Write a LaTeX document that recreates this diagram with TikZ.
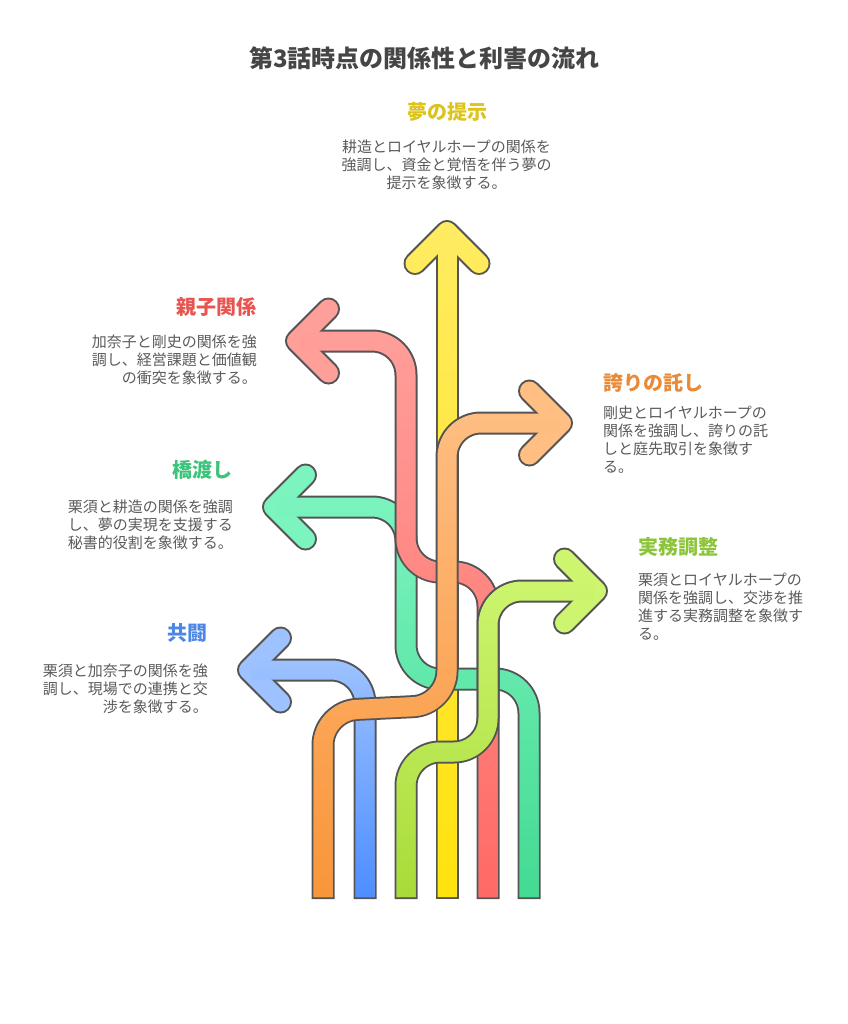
\documentclass[tikz,border=0pt]{standalone}
\usepackage{fontspec}
\setmainfont{Noto Sans CJK JP}
\usetikzlibrary{fadings}

\definecolor{rimgray}{HTML}{545454}
\definecolor{titlegray}{HTML}{454545}
\definecolor{txtgray}{HTML}{5A5A5A}
\definecolor{dreamtop}{HTML}{FFEC62}
\definecolor{dreambot}{HTML}{FFE30E}
\definecolor{bridgetop}{HTML}{7CF4BF}
\definecolor{bridgebot}{HTML}{44DB93}
\definecolor{parenttop}{HTML}{FF9F9A}
\definecolor{parentbot}{HTML}{FF6A66}
\definecolor{alliancetop}{HTML}{9DC2FF}
\definecolor{alliancebot}{HTML}{4E8EFF}
\definecolor{pridetop}{HTML}{FFBE82}
\definecolor{pridebot}{HTML}{F9963A}
\definecolor{affairstop}{HTML}{CDF56F}
\definecolor{affairsbot}{HTML}{A9DC3A}
\definecolor{dreamcol}{HTML}{DCC41C}
\definecolor{parentcol}{HTML}{E85450}
\definecolor{bridgecol}{HTML}{3CC47A}
\definecolor{alliancecol}{HTML}{4C87E6}
\definecolor{pridecol}{HTML}{E88A38}
\definecolor{affairscol}{HTML}{8CC43C}

\begin{document}
\begin{tikzpicture}[x=1pt, y=-1pt,
  rim/.style={draw=rimgray, line width=23pt, line join=round},
  band/.style={draw=#1, line width=19pt, line join=round},
  shaft/.style={rounded corners=34pt, line cap=rect},
  chev/.style={sharp corners, line cap=round},
  heading/.style={font=\bfseries\fontsize{20}{24}\selectfont, inner sep=0pt},
  blurb/.style={font=\fontsize{15}{18}\selectfont, text=txtgray, inner sep=0pt}]

\useasboundingbox (0,0) rectangle (847,1024);

\node [font=\bfseries\fontsize{24}{29}\selectfont, text=titlegray, inner sep=0pt] (title) at (424.5,58) {第3話時点の関係性と利害の流れ};

% 1
\draw[rim, shaft] (447,887.5) -- (447,243.5);
\draw[rim, chev] (415,263.5) -- (447,231.5) -- (479,263.5);
\draw[band=dreamtop, shaft] (447,887.5) -- (447,243.5);
\draw[band=dreamtop, chev] (415,263.5) -- (447,231.5) -- (479,263.5);
\draw[band=dreambot, shaft, path fading=north] (447,887.5) -- (447,243.5) (415,263.5) -- (447,231.5) -- (479,263.5);

% 2
\draw[rim, shaft] (529,887.5) -- (529,679) -- (406,679) -- (406,507) -- (285.5,507);
\draw[rim, chev] (305.5,475) -- (273.5,507) -- (305.5,539);
\draw[band=bridgetop, shaft] (529,887.5) -- (529,679) -- (406,679) -- (406,507) -- (285.5,507);
\draw[band=bridgetop, chev] (305.5,475) -- (273.5,507) -- (305.5,539);
\draw[band=bridgebot, shaft, path fading=north] (529,887.5) -- (529,679) -- (406,679) -- (406,507) -- (285.5,507);

% 3
\draw[rim, shaft] (488,887.5) -- (488,572) -- (406,572) -- (406,341) -- (308.5,341);
\draw[rim, chev] (328.5,309) -- (296.5,341) -- (328.5,373);
\draw[band=parenttop, shaft] (488,887.5) -- (488,572) -- (406,572) -- (406,341) -- (308.5,341);
\draw[band=parenttop, chev] (328.5,309) -- (296.5,341) -- (328.5,373);
\draw[band=parentbot, shaft, path fading=north] (488,887.5) -- (488,572) -- (406,572) -- (406,341) -- (308.5,341);

% 4
\draw[rim, shaft] (365,887.5) -- (365,670) -- (260.5,670);
\draw[rim, chev] (280.5,638) -- (248.5,670) -- (280.5,702);
\draw[band=alliancetop, shaft] (365,887.5) -- (365,670) -- (260.5,670);
\draw[band=alliancetop, chev] (280.5,638) -- (248.5,670) -- (280.5,702);
\draw[band=alliancebot, shaft, path fading=north] (365,887.5) -- (365,670) -- (260.5,670);

% 5
\draw[rim, shaft] (323,887.5) -- (323,711) -- (447,705) -- (447,423) -- (549.5,423);
\draw[rim, chev] (529.5,391) -- (561.5,423) -- (529.5,455);
\draw[band=pridetop, shaft] (323,887.5) -- (323,711) -- (447,705) -- (447,423) -- (549.5,423);
\draw[band=pridetop, chev] (529.5,391) -- (561.5,423) -- (529.5,455);
\draw[band=pridebot, shaft, path fading=north] (323,887.5) -- (323,711) -- (447,705) -- (447,423) -- (549.5,423);

% 6
\draw[rim, shaft] (406,887.5) -- (406,752) -- (488,752) -- (488,591) -- (584.5,591);
\draw[rim, chev] (564.5,559) -- (596.5,591) -- (564.5,623);
\draw[band=affairstop, shaft] (406,887.5) -- (406,752) -- (488,752) -- (488,591) -- (584.5,591);
\draw[band=affairstop, chev] (564.5,559) -- (596.5,591) -- (564.5,623);
\draw[band=affairsbot, shaft, path fading=north] (406,887.5) -- (406,752) -- (488,752) -- (488,591) -- (584.5,591);

% labels
\node [heading, text=dreamcol] (dream) at (447.5,112) {夢の提示};
\node [blurb, align=center, anchor=north] (dreamtxt) at (446.5,140) {耕造とロイヤルホープの関係を\\強調し、資金と覚悟を伴う夢の\\提示を象徴する。};

\node [heading, text=parentcol, anchor=east] (parent) at (257,307) {親子関係};
\node [blurb, align=right, anchor=north east] (parenttxt) at (257,335) {加奈子と剛史の関係を強\\調し、経営課題と価値観\\の衝突を象徴する。};

\node [heading, text=bridgecol, anchor=east] (bridge) at (233,470) {橋渡し};
\node [blurb, align=right, anchor=north east] (bridgetxt) at (233,500) {栗須と耕造の関係を強調\\し、夢の実現を支援する\\秘書的役割を象徴する。};

\node [heading, text=alliancecol, anchor=east] (alliance) at (208,633) {共闘};
\node [blurb, align=right, anchor=north east] (alliancetxt) at (208,664) {栗須と加奈子の関係を強\\調し、現場での連携と交\\渉を象徴する。};

\node [heading, text=pridecol, anchor=west] (pride) at (603,383) {誇りの託し};
\node [blurb, align=left, anchor=north west] (pridetxt) at (603,406) {剛史とロイヤルホープの\\関係を強調し、誇りの託\\しと庭先取引を象徴す\\る。};

\node [heading, text=affairscol, anchor=west] (affairs) at (638,547) {実務調整};
\node [blurb, align=left, anchor=north west] (affairstxt) at (638,573) {栗須とロイヤルホープの\\関係を強調し、交渉を推\\進する実務調整を象徴す\\る。};

\end{tikzpicture}
\end{document}
